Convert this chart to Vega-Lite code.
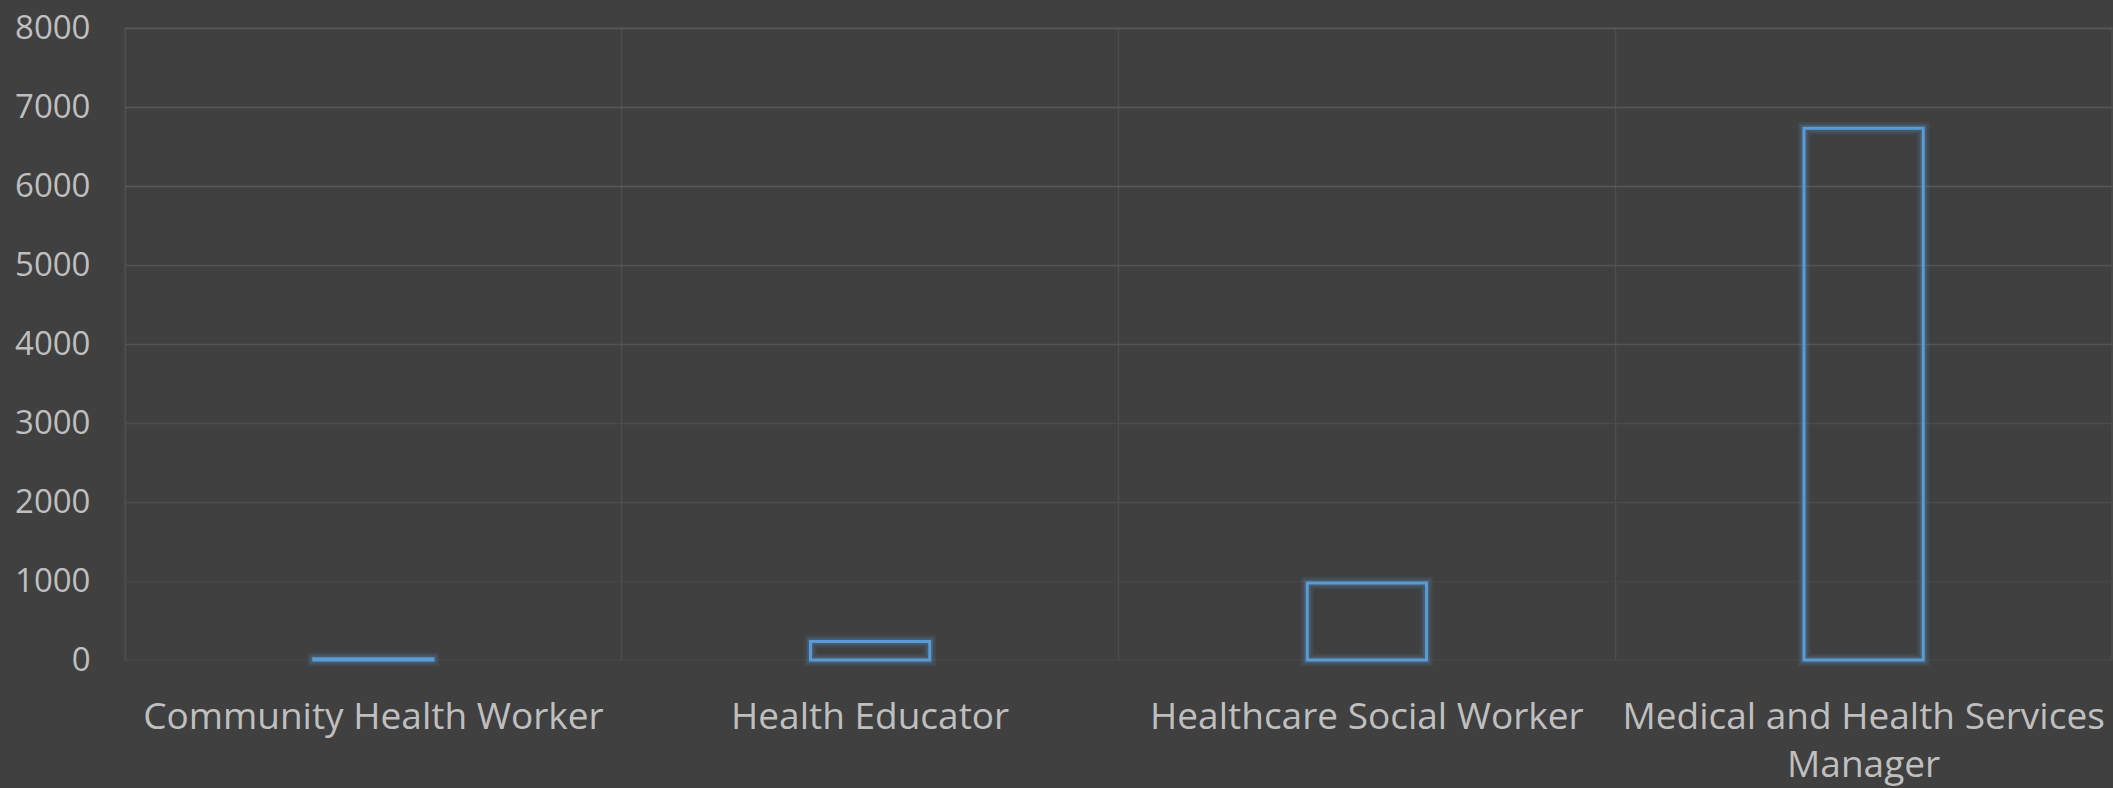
{
  "$schema": "https://vega.github.io/schema/vega-lite/v6.json",
  "width": 1987,
  "height": 632,
  "autosize": {"type": "none"},
  "padding": {"left": 125, "top": 28, "right": 1, "bottom": 128},
  "background": "#404040",
  "config": {
    "view": {"stroke": "#4c4c4c", "strokeWidth": 1.5},
    "font": "Open Sans"
  },
  "data": {
    "values": [
      {"job": "Community Health Worker", "count": 15},
      {"job": "Health Educator", "count": 235},
      {"job": "Healthcare Social Worker", "count": 975},
      {"job": "Medical and Health Services Manager", "count": 6730}
    ]
  },
  "encoding": {
    "x": {
      "field": "job",
      "type": "nominal",
      "sort": null,
      "scale": {"paddingInner": 0, "paddingOuter": 0},
      "axis": {
        "title": null,
        "labelAngle": 0,
        "labelFontSize": 37,
        "labelColor": "#bfbfbf",
        "labelPadding": 39,
        "labelLineHeight": 48,
        "labelLimit": 0,
        "ticks": false,
        "tickSize": 0,
        "domain": false,
        "grid": true,
        "bandPosition": 0,
        "gridColor": "#4e4e4e",
        "gridWidth": 1.5,
        "labelExpr": "datum.label == 'Medical and Health Services Manager' ? ['Medical and Health Services', 'Manager'] : datum.label"
      }
    },
    "y": {
      "field": "count",
      "type": "quantitative",
      "scale": {"domain": [0, 8000], "nice": false},
      "axis": {
        "title": null,
        "values": [0, 1000, 2000, 3000, 4000, 5000, 6000, 7000, 8000],
        "format": "d",
        "labelFontSize": 33,
        "labelColor": "#bfbfbf",
        "labelPadding": 35,
        "ticks": false,
        "tickSize": 0,
        "domain": false,
        "grid": true,
        "gridWidth": 1.5,
        "gridColor": {
          "condition": [
            {"test": "datum.value >= 6000", "value": "#595959"},
            {"test": "datum.value >= 4000", "value": "#545454"},
            {"test": "datum.value >= 2000", "value": "#4c4c4c"},
            {"test": "datum.value >= 1000", "value": "#464646"}
          ],
          "value": "#434343"
        }
      }
    }
  },
  "layer": [
    {
      "mark": {"type": "bar", "width": {"band": 0.24}, "fill": null, "fillOpacity": 0, "stroke": "#5b9bd5", "strokeWidth": 12, "strokeOpacity": 0.12}
    },
    {
      "mark": {"type": "bar", "width": {"band": 0.24}, "fill": null, "fillOpacity": 0, "stroke": "#5b9bd5", "strokeWidth": 7, "strokeOpacity": 0.2}
    },
    {
      "mark": {"type": "bar", "width": {"band": 0.24}, "fill": null, "fillOpacity": 0, "stroke": "#5b9bd5", "strokeWidth": 3}
    }
  ]
}
